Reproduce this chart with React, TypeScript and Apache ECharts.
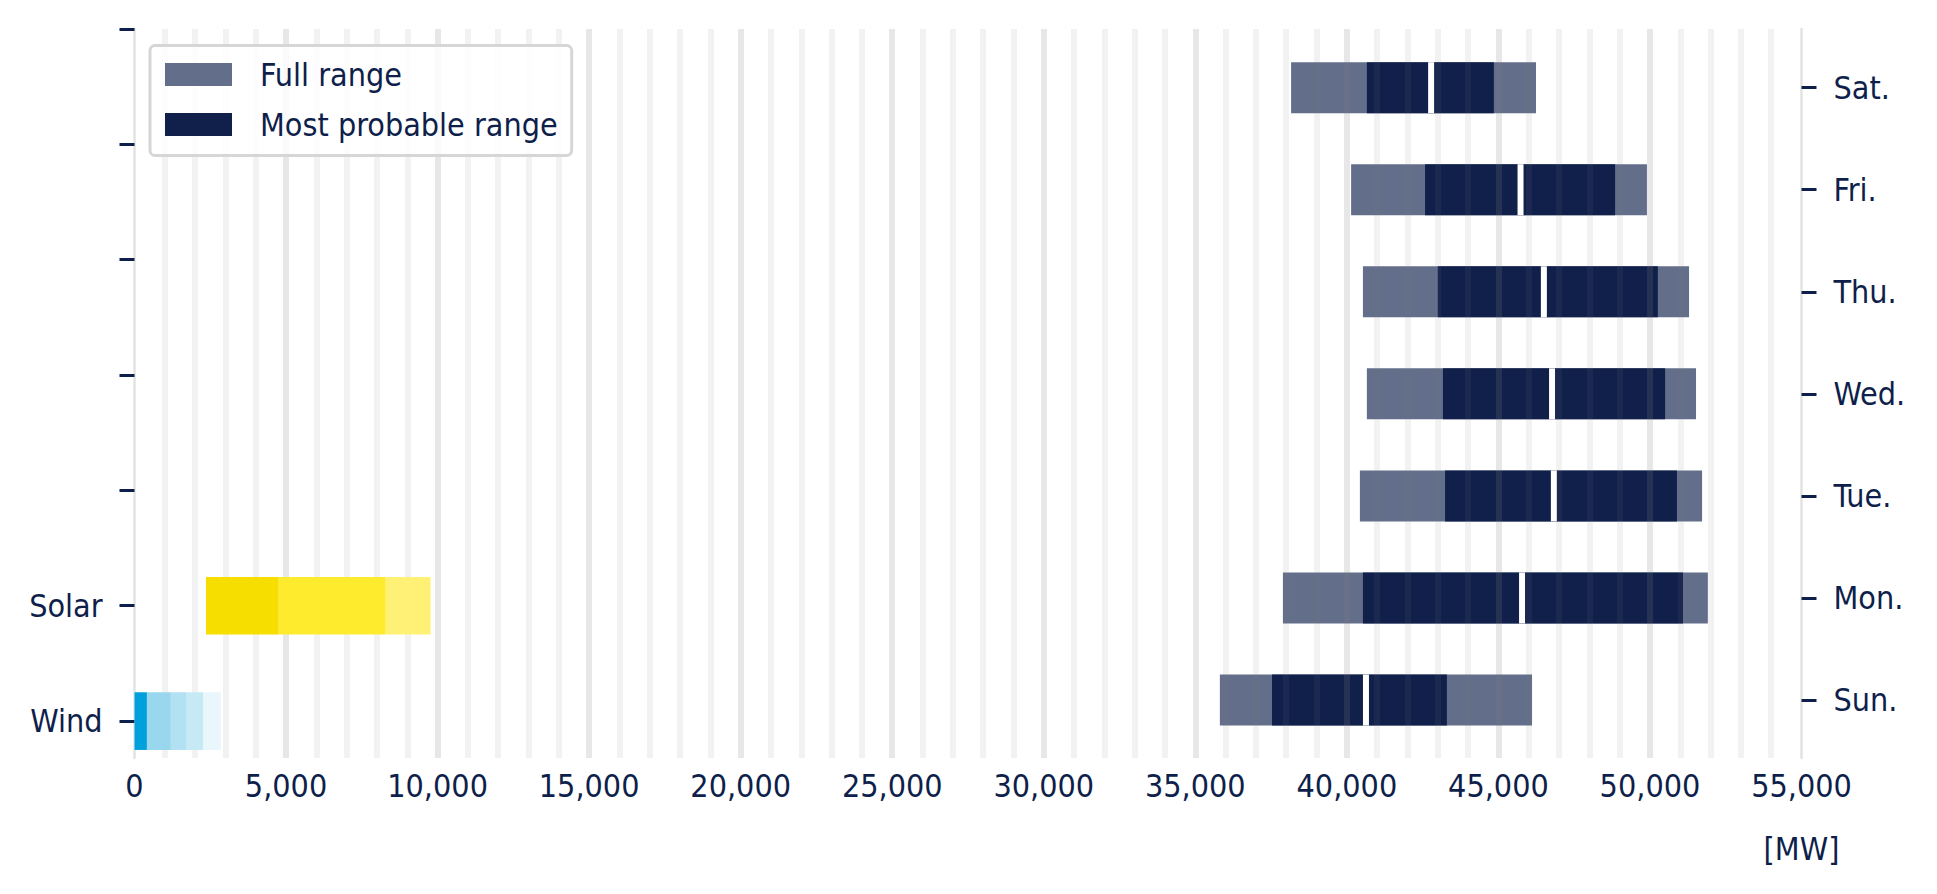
import { useEffect, useRef } from 'react'
import * as echarts from 'echarts'

// left axis: energy sources
const sourceLabels = ['Wind', 'Solar']
const windSteps = [0, 410, 1200, 1700, 2260, 2850]
const solarSteps = [2360, 4760, 8290, 9770]
const windColors = ['#00a0dc', '#99d7ef', '#b1e1f3', '#c6e9f6', '#e9f6fc']
const solarColors = ['#f5de00', '#ffeb2e', '#fff176']

// right axis: days (bottom to top)
const dayLabels = ['Sun.', 'Mon.', 'Tue.', 'Wed.', 'Thu.', 'Fri.', 'Sat.']
const fullMin = [35810, 37890, 40430, 40660, 40530, 40140, 38160]
const probLow = [37530, 40530, 43240, 43170, 43000, 42580, 40660]
const probMid = [40630, 45780, 46830, 46770, 46500, 45730, 42780]
const probHigh = [43300, 51090, 50890, 50500, 50260, 48850, 44850]
const fullMax = [46110, 51910, 51720, 51520, 51290, 49900, 46240]

const leftTicks = [0, 1, 2, 3, 4, 5, 6]
const dayTicks = [0, 1, 2, 3, 4, 5, 6]

const NAVY = '#0f1f4b'
const FONT = "'DejaVu Sans Condensed', 'DejaVu Sans', sans-serif"
const BAR = 0.5
const GAP = 6 // white gap at the median, px

const fmt = (v: number) => v.toLocaleString('en-US')

const App = () => {
  const chartRef = useRef<HTMLDivElement>(null)

  useEffect(() => {
    if (!chartRef.current) return
    const chart = echarts.init(chartRef.current, null, { renderer: 'svg' })

    const sourceColors = [windColors, solarColors]
    const segments: number[][] = []
    ;[windSteps, solarSteps].forEach((steps, s) => {
      for (let i = 1; i < steps.length; i++) segments.push([s, steps[i - 1], steps[i], i - 1])
    })

    const rangeRect = (api: any, color?: string) => {
      const y = api.value(0)
      const a = api.coord([api.value(1), y])
      const b = api.coord([api.value(2), y])
      const h = api.size([0, BAR])[1]
      return {
        type: 'rect',
        shape: { x: a[0], y: a[1] - h / 2, width: b[0] - a[0], height: h },
        style: color ? { fill: color } : api.style(),
      }
    }

    const labelStyle = { color: NAVY, fontSize: 32, fontFamily: FONT }
    const yCommon = {
      type: 'value' as const,
      splitLine: { show: false },
      axisLine: { show: true, onZero: false, lineStyle: { color: '#e3e3e3', width: 2.5 } },
    }

    chart.setOption({
      animation: false,
      grid: { left: 134.5, right: 135.5, top: 29, bottom: 136, outerBoundsMode: 'none' },
      legend: {
        data: [
          { name: 'Full range', icon: 'rect' },
          { name: 'Most probable range', icon: 'rect' },
        ],
        orient: 'vertical',
        left: 150,
        top: 45.5,
        itemWidth: 67,
        itemHeight: 23,
        itemGap: 14,
        padding: [11, 14, 13, 15],
        backgroundColor: 'rgba(255,255,255,0.8)',
        borderColor: '#d6d6d6',
        borderWidth: 3,
        borderRadius: 5,
        selectedMode: false,
        textStyle: { ...labelStyle, lineHeight: 36, padding: [0, 0, 0, 23] },
      },
      xAxis: {
        type: 'value',
        min: 0,
        max: 55000,
        interval: 5000,
        z: 3,
        axisLine: { show: false, onZero: false },
        axisTick: { show: false },
        axisLabel: { ...labelStyle, formatter: fmt, margin: 12 },
        splitLine: {
          show: true,
          showMinLine: false,
          showMaxLine: false,
          lineStyle: { color: 'rgba(128,128,128,0.19)', width: 6 },
        },
        minorTick: { show: false, splitNumber: 5 },
        minorSplitLine: { show: true, lineStyle: { color: 'rgba(128,128,128,0.1)', width: 6 } },
        name: '[MW]',
        nameLocation: 'end',
        nameGap: 0,
        nameTextStyle: { ...labelStyle, align: 'center', verticalAlign: 'top', padding: [75, 0, 0, 0] },
      },
      yAxis: [
        {
          ...yCommon,
          position: 'left',
          min: -0.32,
          max: 6,
          axisTick: { show: true, customValues: leftTicks, length: 15, lineStyle: { color: NAVY, width: 3 } },
          axisLabel: {
            ...labelStyle,
            customValues: [0, 1],
            margin: 32,
            formatter: (v: number) => sourceLabels[v] ?? '',
          },
        },
        {
          ...yCommon,
          position: 'right',
          min: -0.568,
          max: 6.575,
          axisTick: { show: true, customValues: dayTicks, length: 15, lineStyle: { color: NAVY, width: 3 } },
          axisLabel: {
            ...labelStyle,
            customValues: dayTicks,
            margin: 32,
            formatter: (v: number) => dayLabels[v] ?? '',
          },
        },
      ],
      series: [
        {
          name: 'Sources',
          type: 'custom',
          yAxisIndex: 0,
          z: 5,
          encode: { x: [1, 2], y: 0 },
          data: segments,
          renderItem: (_p: any, api: any) =>
            rangeRect(api, sourceColors[api.value(0)][api.value(3)]),
        },
        {
          name: 'Full range',
          type: 'custom',
          yAxisIndex: 1,
          itemStyle: { color: '#636e8a' },
          encode: { x: [1, 2], y: 0 },
          data: fullMin.map((v, i) => [i, v, fullMax[i]]),
          renderItem: (_p: any, api: any) => rangeRect(api),
        },
        {
          name: 'Most probable range',
          type: 'custom',
          yAxisIndex: 1,
          itemStyle: { color: '#10204b' },
          encode: { x: [1, 2], y: 0 },
          data: probLow.map((v, i) => [i, v, probHigh[i], probMid[i]]),
          renderItem: (_p: any, api: any) => {
            const y = api.value(0)
            const m = api.coord([api.value(3), y])
            const h = api.size([0, BAR])[1]
            return {
              type: 'group',
              children: [
                rangeRect(api),
                {
                  type: 'rect',
                  shape: { x: m[0] - GAP / 2, y: m[1] - h / 2, width: GAP, height: h },
                  style: { fill: '#ffffff' },
                },
              ],
            }
          },
        },
      ],
    })

    const onResize = () => chart.resize()
    window.addEventListener('resize', onResize)
    return () => {
      window.removeEventListener('resize', onResize)
      chart.dispose()
    }
  }, [])

  return (
    <div
      ref={chartRef}
      style={{ position: 'fixed', left: 0, top: 0, width: '100vw', height: '100vh', background: '#fff' }}
    />
  )
}

export default App
